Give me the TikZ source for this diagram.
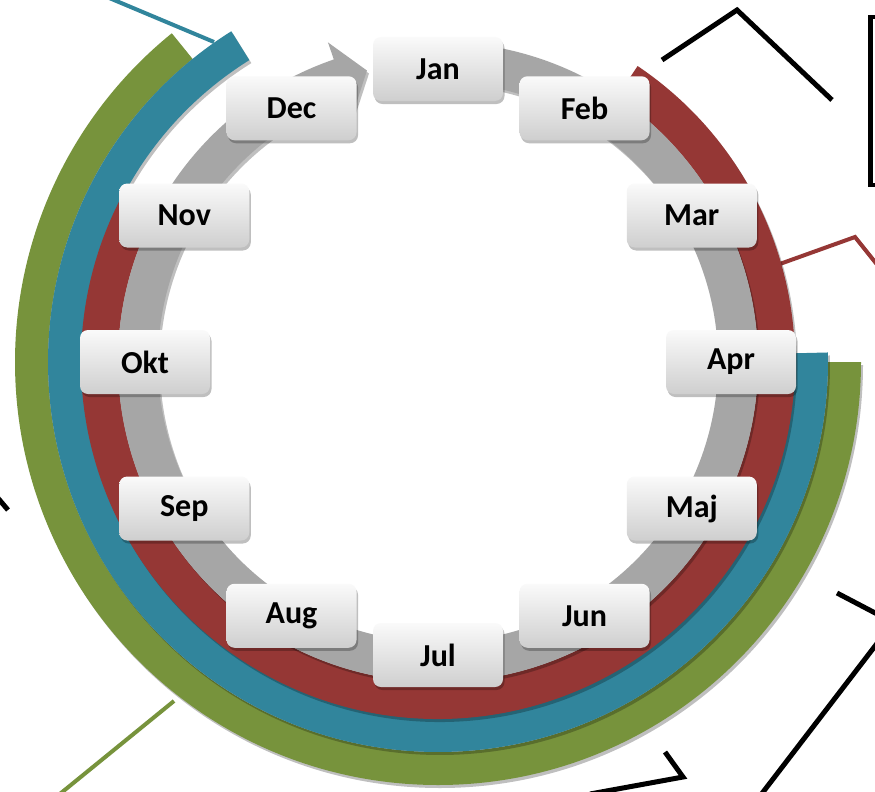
\documentclass[tikz,border=0pt]{standalone}
\usepackage{fontspec}
\setmainfont{Carlito}
\usetikzlibrary{shadows}
\definecolor{ringgray}{HTML}{A6A6A6}
\definecolor{ringred}{HTML}{953735}
\definecolor{ringblue}{HTML}{31859C}
\definecolor{ringgreen}{HTML}{77933C}
\begin{document}
\begin{tikzpicture}[x=1pt,y=1pt,
  bandshadow/.style={drop shadow={shadow xshift=2pt,shadow yshift=-3pt,opacity=0.25,fill=black}},
  monthbox/.style={rectangle, rounded corners=8pt, minimum width=130pt, minimum height=64pt,
    inner sep=0pt, top color=black!2, bottom color=black!19,
    drop shadow={shadow xshift=1.5pt,shadow yshift=-3pt,opacity=0.25,fill=black},
    font=\bfseries\fontsize{32}{34}\selectfont, text=black},
  outline/.style={line width=5pt, black},
  thinline/.style={line width=4pt}
]
\useasboundingbox (0,0) rectangle (875,-792);
\clip (0,0) rectangle (875,-792);
\fill[white] (0,0) rectangle (875,-792);

% outside lines
\draw[outline] (662,-60) -- (737,-10) -- (832,-100);
\draw[line width=4.5pt] (870.5,-17) rectangle (960,-185);
\draw[ringred, thinline] (777,-265) -- (855,-237) -- (895,-287);
\draw[ringblue, thinline] (214,-42) -- (95,8);
\draw[ringgreen, thinline] (174,-701) -- (50,-802);
\draw[outline] (-14,-484) -- (8,-510);
\draw[outline] (837,-593) -- (900,-626);
\draw[outline] (895,-620) -- (760,-796);
\draw[outline] (665,-752) -- (683,-777) -- (590,-794);

\begin{scope}[shift={(438,-362)}]
  % green band
  \fill[ringgreen, bandshadow] (0:423) arc[start angle=0,end angle=-231,radius=423]
     -- (129:390) arc[start angle=129,end angle=360,radius=390] -- cycle;
  % blue band
  \fill[ringblue, bandshadow] (1.4:390) arc[start angle=1.4,end angle=-238,radius=390]
     -- (122:356) arc[start angle=122,end angle=361.4,radius=356] -- cycle;
  % red band
  \fill[ringred, bandshadow] (56:357) arc[start angle=56,end angle=-210,radius=357]
     -- (150:320) arc[start angle=150,end angle=416,radius=320] -- cycle;
  % gray circular arrow
  \fill[ringgray, bandshadow] (85:320) arc[start angle=85,end angle=-251,radius=320]
     -- (109:338) -- (103.7:300) -- (109:262) -- (109:280)
     arc[start angle=109,end angle=445,radius=280] -- cycle;

  % month boxes
  \node[monthbox] (dec) at (120:293) {Dec};
  \node[monthbox] (jan) at (90:293) {Jan};
  \node[monthbox] (feb) at (60:293) {Feb};
  \node[monthbox] (mar) at (30:293) {Mar};
  \node[monthbox] (apr) at (0:293) {Apr};
  \node[monthbox] (maj) at (-30:293) {Maj};
  \node[monthbox] (nov) at (150:293) {Nov};
  \node[monthbox] (okt) at (180:293) {Okt};
  \node[monthbox] (sep) at (210:293) {Sep};
  \node[monthbox] (aug) at (240:293) {Aug};
  \node[monthbox] (jun) at (-60:293) {Jun};
  \node[monthbox] (jul) at (-90:293) {Jul};
\end{scope}
\end{tikzpicture}
\end{document}
